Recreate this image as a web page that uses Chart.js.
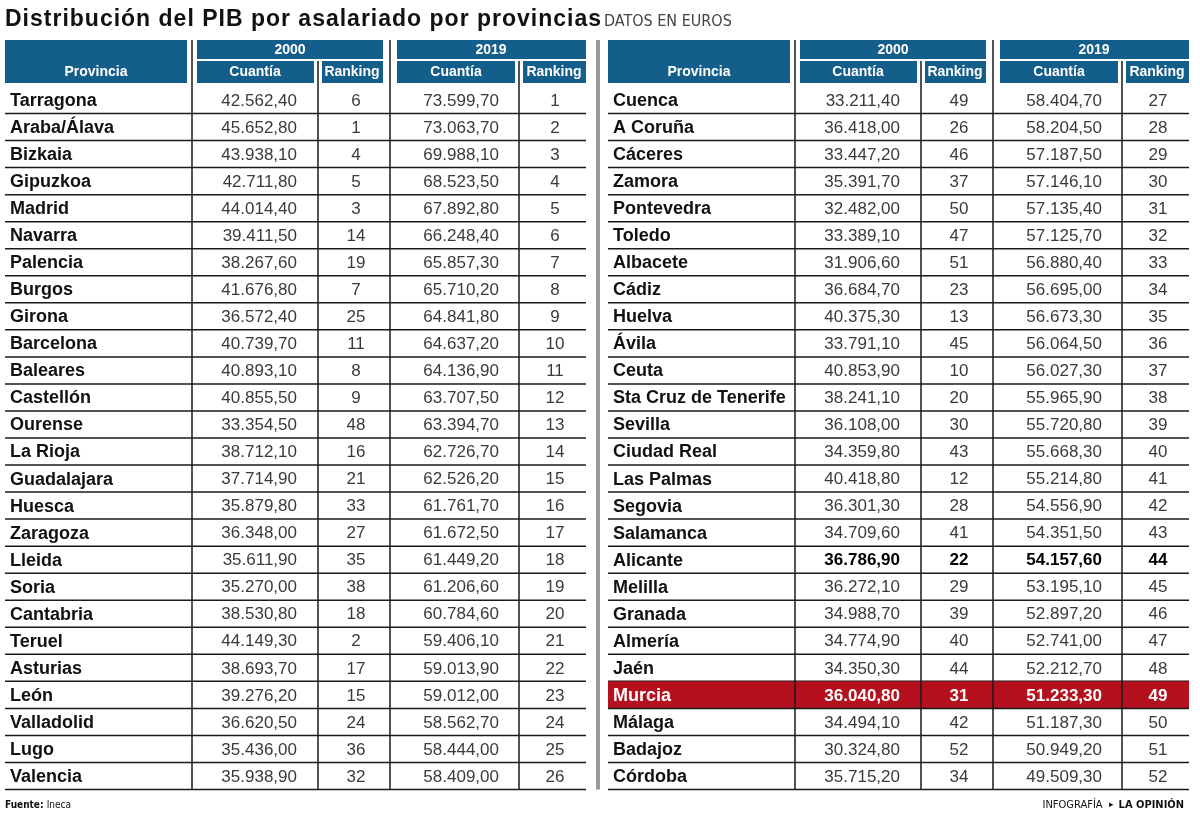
<!DOCTYPE html>
<html>
<head>
<meta charset="utf-8">
<script src="https://cdn.jsdelivr.net/npm/chart.js@4"></script>
<style>
  html, body { margin: 0; padding: 0; background: #ffffff; }
  #tabla { display: block; }
</style>
</head>
<body>
<canvas id="tabla" width="1200" height="818"></canvas>
<script>
// Datos: PIB por asalariado por provincias (euros)
var provincias = ["Tarragona", "Araba/Álava", "Bizkaia", "Gipuzkoa", "Madrid", "Navarra", "Palencia", "Burgos", "Girona", "Barcelona",
    "Baleares", "Castellón", "Ourense", "La Rioja", "Guadalajara", "Huesca", "Zaragoza", "Lleida", "Soria", "Cantabria",
    "Teruel", "Asturias", "León", "Valladolid", "Lugo", "Valencia",
    "Cuenca", "A Coruña", "Cáceres", "Zamora", "Pontevedra", "Toledo", "Albacete", "Cádiz", "Huelva", "Ávila",
    "Ceuta", "Sta Cruz de Tenerife", "Sevilla", "Ciudad Real", "Las Palmas", "Segovia", "Salamanca", "Alicante", "Melilla", "Granada",
    "Almería", "Jaén", "Murcia", "Málaga", "Badajoz", "Córdoba"];

var cuantia2000 = [42562.40, 45652.80, 43938.10, 42711.80, 44014.40, 39411.50, 38267.60, 41676.80, 36572.40, 40739.70,
    40893.10, 40855.50, 33354.50, 38712.10, 37714.90, 35879.80, 36348.00, 35611.90, 35270.00, 38530.80,
    44149.30, 38693.70, 39276.20, 36620.50, 35436.00, 35938.90,
    33211.40, 36418.00, 33447.20, 35391.70, 32482.00, 33389.10, 31906.60, 36684.70, 40375.30, 33791.10,
    40853.90, 38241.10, 36108.00, 34359.80, 40418.80, 36301.30, 34709.60, 36786.90, 36272.10, 34988.70,
    34774.90, 34350.30, 36040.80, 34494.10, 30324.80, 35715.20];

var ranking2000 = [6, 1, 4, 5, 3, 14, 19, 7, 25, 11, 8, 9, 48, 16, 21, 33, 27, 35, 38, 18, 2, 17, 15, 24, 36, 32,
    49, 26, 46, 37, 50, 47, 51, 23, 13, 45, 10, 20, 30, 43, 12, 28, 41, 22, 29, 39, 40, 44, 31, 42, 52, 34];

var cuantia2019 = [73599.70, 73063.70, 69988.10, 68523.50, 67892.80, 66248.40, 65857.30, 65710.20, 64841.80, 64637.20,
    64136.90, 63707.50, 63394.70, 62726.70, 62526.20, 61761.70, 61672.50, 61449.20, 61206.60, 60784.60,
    59406.10, 59013.90, 59012.00, 58562.70, 58444.00, 58409.00,
    58404.70, 58204.50, 57187.50, 57146.10, 57135.40, 57125.70, 56880.40, 56695.00, 56673.30, 56064.50,
    56027.30, 55965.90, 55720.80, 55668.30, 55214.80, 54556.90, 54351.50, 54157.60, 53195.10, 52897.20,
    52741.00, 52212.70, 51233.30, 51187.30, 50949.20, 49509.30];

var ranking2019 = [];
for (var r = 1; r <= 52; r++) ranking2019.push(r);

var destacadaNegrita = "Alicante";
var destacadaRoja = "Murcia";

var filasPorTabla = 26;
var etiquetasFilas = provincias.slice(0, filasPorTabla);

var AZUL = "#135e8a";
var ROJO = "#b5101e";
var FUENTE = '"Liberation Sans", Arial, sans-serif';
var ESTRECHA = '"Liberation Sans Narrow", "DejaVu Sans Condensed", sans-serif';

// Formato con punto de miles y coma decimal
function formatoEuros(v) {
    var partes = v.toFixed(2).split(".");
    var entero = partes[0].replace(/\B(?=(\d{3})+(?!\d))/g, ".");
    return entero + "," + partes[1];
}

function caja(ctx, xs, x0, x1, y0, y1, color) {
    var px0 = xs.getPixelForValue(x0), px1 = xs.getPixelForValue(x1);
    ctx.fillStyle = color;
    ctx.fillRect(px0, y0, px1 - px0, y1 - y0);
}

function texto(ctx, s, x, y, font, color, align) {
    ctx.font = font;
    ctx.fillStyle = color;
    ctx.textAlign = align || "left";
    ctx.textBaseline = "middle";
    ctx.fillText(s, x, y);
}

// Dibuja una de las dos mitades de la tabla
function dibujarMitad(chart, inicio, dx) {
    var ctx = chart.ctx;
    var xs = chart.scales.x;
    var ys = chart.scales.y;
    var altoFila = (ys.bottom - ys.top) / filasPorTabla;
    var X = function (v) { return xs.getPixelForValue(v + dx); };

    // Cabeceras
    caja(ctx, xs, 5 + dx, 187 + dx, 40, 83, AZUL);
    caja(ctx, xs, 197 + dx, 383 + dx, 40, 59, AZUL);
    caja(ctx, xs, 197 + dx, 314 + dx, 61, 83, AZUL);
    caja(ctx, xs, 322 + dx, 383 + dx, 61, 83, AZUL);
    caja(ctx, xs, 397 + dx, 586 + dx, 40, 59, AZUL);
    caja(ctx, xs, 397 + dx, 515 + dx, 61, 83, AZUL);
    caja(ctx, xs, 523 + dx, 586 + dx, 61, 83, AZUL);

    var fCab = "bold 14px " + FUENTE;
    texto(ctx, "Provincia", X(96), 72, fCab, "#ffffff", "center");
    texto(ctx, "2000", X(290), 50, fCab, "#ffffff", "center");
    texto(ctx, "2019", X(491), 50, fCab, "#ffffff", "center");
    texto(ctx, "Cuantía", X(255), 72, fCab, "#ffffff", "center");
    texto(ctx, "Ranking", X(352), 72, fCab, "#ffffff", "center");
    texto(ctx, "Cuantía", X(456), 72, fCab, "#ffffff", "center");
    texto(ctx, "Ranking", X(554), 72, fCab, "#ffffff", "center");

    // Filas
    for (var i = 0; i < filasPorTabla; i++) {
        var k = inicio + i;
        var yc = ys.getPixelForValue(i);
        var y0 = yc - altoFila / 2, y1 = yc + altoFila / 2;
        var roja = provincias[k] === destacadaRoja;
        var negrita = provincias[k] === destacadaNegrita;

        if (roja) {
            caja(ctx, xs, 5 + dx, 586 + dx, y0, y1, ROJO);
        }

        var colorNum = roja ? "#ffffff" : (negrita ? "#000000" : "#3a3a3a");
        var fNum = (roja || negrita) ? "bold 17px " + FUENTE : "17px " + FUENTE;
        var fNom = "bold 18px " + FUENTE;

        texto(ctx, provincias[k], X(10), yc + 1, fNom, roja ? "#ffffff" : "#111111", "left");
        texto(ctx, formatoEuros(cuantia2000[k]), X(297), yc + 1, fNum, colorNum, "right");
        texto(ctx, String(ranking2000[k]), X(356), yc + 1, fNum, colorNum, "center");
        texto(ctx, formatoEuros(cuantia2019[k]), X(499), yc + 1, fNum, colorNum, "right");
        texto(ctx, String(ranking2019[k]), X(555), yc + 1, fNum, colorNum, "center");

        // Línea inferior de la fila
        ctx.strokeStyle = "#1a1a1a";
        ctx.lineWidth = 1.5;
        ctx.beginPath();
        ctx.moveTo(X(5), y1);
        ctx.lineTo(X(586), y1);
        ctx.stroke();
    }

    // Líneas verticales
    var fondo = ys.bottom;
    ctx.strokeStyle = "#1a1a1a";
    ctx.lineWidth = 1.5;
    [[192, 40], [318, 61], [390, 40], [519, 61]].forEach(function (l) {
        ctx.beginPath();
        ctx.moveTo(X(l[0]), l[1]);
        ctx.lineTo(X(l[0]), fondo);
        ctx.stroke();
    });
}

var pluginTabla = {
    id: "tabla",
    afterDraw: function (chart) {
        var ctx = chart.ctx;
        var xs = chart.scales.x;
        ctx.save();

        // Título
        ctx.font = "bold 23px " + FUENTE;
        ctx.fillStyle = "#111111";
        ctx.textAlign = "left";
        ctx.textBaseline = "alphabetic";
        ctx.letterSpacing = "1px";
        var titulo = "Distribución del PIB por asalariado por provincias";
        ctx.fillText(titulo, 5, 26);
        var w = ctx.measureText(titulo).width;
        ctx.letterSpacing = "0px";
        ctx.font = "16px " + ESTRECHA;
        ctx.fillStyle = "#444444";
        ctx.fillText("DATOS EN EUROS", 5 + w + 2, 26);

        dibujarMitad(chart, 0, 0);
        dibujarMitad(chart, filasPorTabla, 603);

        // Separador gris entre tablas
        caja(ctx, xs, 596, 600, 40, chart.scales.y.bottom, "#9a9a9a");

        // Pie
        ctx.textBaseline = "alphabetic";
        ctx.textAlign = "left";
        ctx.font = "bold 10px " + ESTRECHA;
        ctx.fillStyle = "#111111";
        ctx.fillText("Fuente:", 5, 808);
        var wf = ctx.measureText("Fuente: ").width;
        ctx.font = "10px " + ESTRECHA;
        ctx.fillText("Ineca", 5 + wf, 808);

        ctx.textAlign = "right";
        ctx.font = "bold 11px " + ESTRECHA;
        var marca = "LA OPINIÓN";
        ctx.fillText(marca, 1184, 808);
        var wm = ctx.measureText(marca).width;
        ctx.font = "9px " + FUENTE;
        ctx.fillText("▸", 1184 - wm - 5, 807);
        ctx.font = "11px " + ESTRECHA;
        ctx.fillText("INFOGRAFÍA", 1184 - wm - 16, 808);

        ctx.restore();
    }
};

var ctx = document.getElementById("tabla").getContext("2d");
new Chart(ctx, {
    type: "scatter",
    data: {
        labels: etiquetasFilas,
        datasets: []
    },
    options: {
        responsive: false,
        animation: false,
        devicePixelRatio: 1,
        layout: {
            padding: { top: 86.5, bottom: 818 - 789.5, left: 0, right: 0 }
        },
        plugins: {
            legend: { display: false },
            tooltip: { enabled: false }
        },
        scales: {
            x: { type: "linear", min: 0, max: 1200, offset: false, display: false },
            y: { type: "category", labels: etiquetasFilas, offset: true, display: false }
        }
    },
    plugins: [pluginTabla]
});
</script>
</body>
</html>
